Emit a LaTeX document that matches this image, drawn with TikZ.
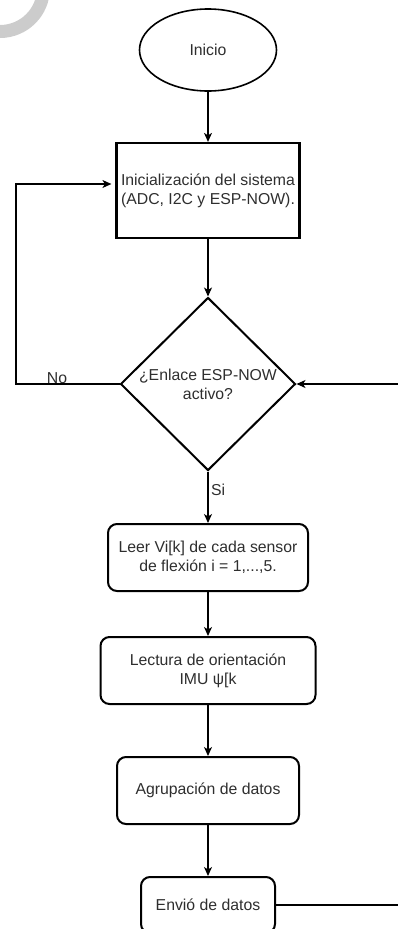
\documentclass[tikz,border=0pt]{standalone}
\usepackage{fontspec}
\setmainfont{Liberation Sans}
\usetikzlibrary{shapes.geometric,arrows.meta}
\definecolor{ink}{gray}{0.18}
\definecolor{ring}{gray}{0.80}
\begin{document}
\begin{tikzpicture}[x=1pt,y=-1pt,
  every node/.style={font=\fontsize{15.8}{19}\selectfont, text=ink},
  base/.style={draw=black, align=center, inner sep=0pt},
  procbox/.style={base, rectangle, rounded corners=9pt, line width=2pt},
  conn/.style={line width=1.2pt, -{Stealth[length=9pt,width=8pt,inset=2.5pt]}},
  lbl/.style={inner sep=0pt}
]
\useasboundingbox (0,0) rectangle (398,929);
\clip (0,0) rectangle (398,929);

% light ring in the upper left corner
\draw[ring, line width=13pt] (0,-12) circle[radius=43.5];

% flow nodes
\node[base, ellipse, line width=1.6pt, minimum width=137pt, minimum height=82pt] (inicio) at (208,50) {Inicio};
\node[base, rectangle, line width=2.2pt, minimum width=183pt, minimum height=95pt] (init) at (208,190.5)
  {Inicialización del sistema\\(ADC, I2C y ESP-NOW).};
\node[base, diamond, line width=2pt, minimum width=175pt, minimum height=173pt] (dec) at (208,384)
  {¿Enlace ESP-NOW\\activo?};
\node[procbox, minimum width=200pt, minimum height=67pt] (leer) at (208,557.5)
  {Leer Vi[k] de cada sensor\\de flexión i = 1,...,5.};
\node[procbox, minimum width=215pt, minimum height=67pt] (imu) at (208,670.5)
  {Lectura de orientación\\IMU ψ[k};
\node[procbox, minimum width=182pt, minimum height=67pt] (agr) at (208,790.5) {Agrupación de datos};
\node[procbox, minimum width=134pt, minimum height=56pt] (env) at (208,905) {Envió de datos};

% branch labels
\node[lbl, anchor=base] (lno) at (57,383) {No};
\node[lbl, anchor=base west] (lsi) at (211,495) {Si};

% connectors
\coordinate (lx) at (16,0);
\draw[conn] (inicio) -- (init);
\draw[conn] (init) -- (dec);
\draw[conn] (dec) -- (leer);
\draw[conn] (leer) -- (imu);
\draw[conn] (imu) -- (agr);
\draw[conn] (agr) -- (env);
\draw[conn, shorten >=4pt] (dec.west) -- (dec.west -| lx) |- ([yshift=6.5pt]init.west);
\draw[conn] (env.east) -- ++(140,0) |- (dec.east);
\end{tikzpicture}
\end{document}
